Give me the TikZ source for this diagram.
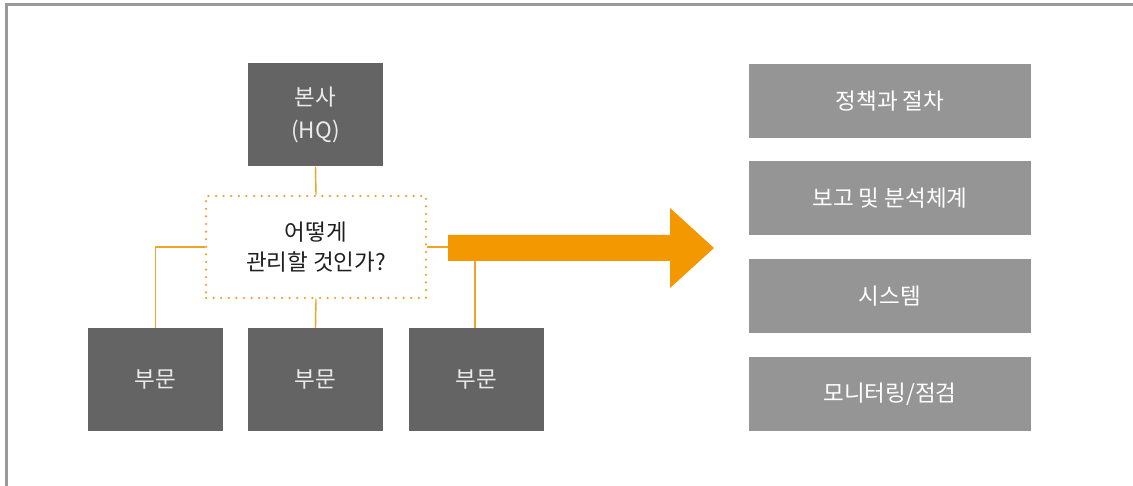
\documentclass[tikz,border=0pt]{standalone}
\usepackage{fontspec}
\setmainfont{Noto Sans CJK KR}
\begin{document}
\begin{tikzpicture}[x=1pt,y=-1pt,
  dark/.style={rectangle,fill=boxdark,text=white!92!black,minimum width=135pt,minimum height=103pt,inner sep=0pt,align=center,font=\fontsize{22.5}{33}\selectfont},
  light/.style={rectangle,fill=boxlight,text=white,minimum width=282pt,minimum height=74pt,inner sep=0pt,font=\fontsize{22.5}{28}\selectfont},
  conn/.style={draw=orangeline,line width=1.4pt},
  dotbox/.style={rectangle,draw=orangeline,line width=2.5pt,dash pattern=on 0pt off 7.6pt,line cap=round,minimum width=220pt,minimum height=102pt,inner sep=0pt,align=center,text=black!88,font=\fontsize{22.5}{30}\selectfont}
]
\definecolor{boxdark}{HTML}{646464}
\definecolor{boxlight}{HTML}{959595}
\definecolor{orangeline}{HTML}{F4A12A}
\definecolor{arroworange}{HTML}{F39800}
\definecolor{framegray}{HTML}{9A9A9A}
\useasboundingbox (0,0) rectangle (1133,486);
\draw[framegray,line width=3pt] (6,486) -- (6,5) -- (1133,5);

\node[dark] (hq) at (315.5,115) {본사\\(HQ)};
\node[dotbox] (q) at (316,247) {어떻게\\관리할 것인가?};
\node[dark] (b1) at (155.5,379.5) {부문};
\node[dark] (b2) at (315.5,379.5) {부문};
\node[dark] (b3) at (476.5,379.5) {부문};

\draw[conn] (hq.south) -- (q.north);
\draw[conn] (q.south) -- (b2.north);
\draw[conn] (q.west) -| (b1.north);
\draw[conn] (q.east) -| ([xshift=-1.5pt]b3.north);

\coordinate (as) at (448,248);
\coordinate (at) at (714,248);
\fill[arroworange] (448,235) -- (670,235) -- (670,208) -- (at) -- (670,288) -- (670,261) -- (448,261) -- cycle;

\node[light] (r1) at (890,101) {정책과 절차};
\node[light] (r2) at (890,198.5) {보고 및 분석체계};
\node[light] (r3) at (890,296) {시스템};
\node[light] (r4) at (890,394) {모니터링/점검};
\end{tikzpicture}
\end{document}
